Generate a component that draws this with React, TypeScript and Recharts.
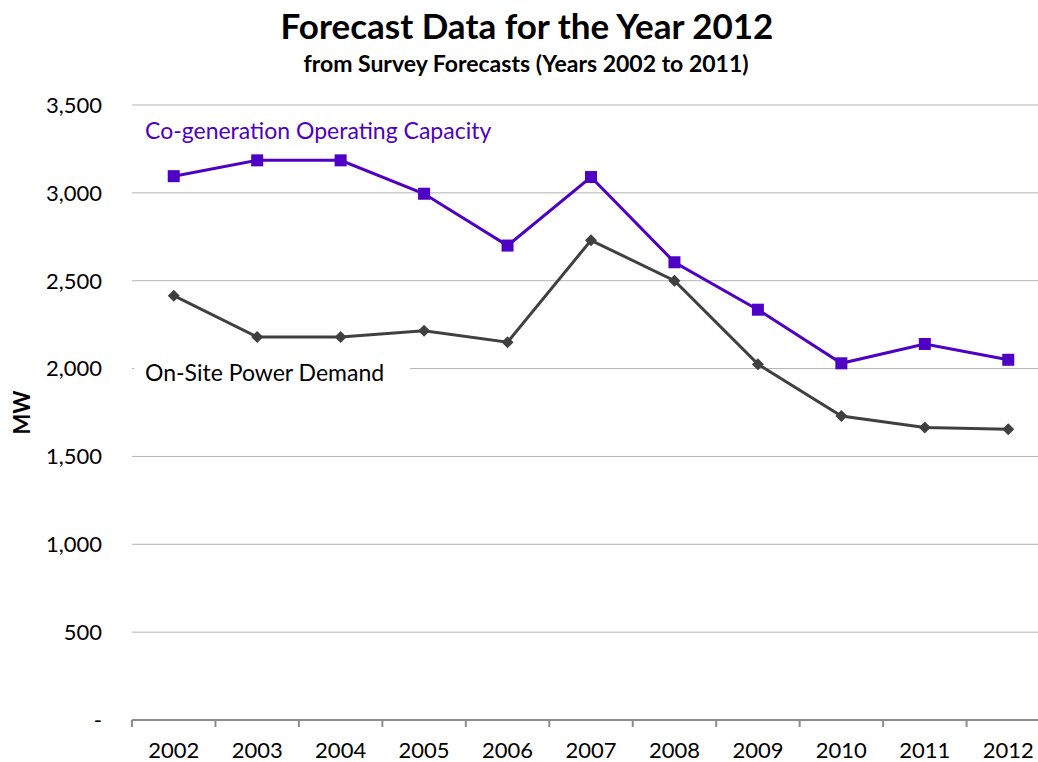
import { LineChart, Line, XAxis, YAxis, CartesianGrid } from 'recharts';

const years = [2002, 2003, 2004, 2005, 2006, 2007, 2008, 2009, 2010, 2011, 2012];
const cogenCapacity = [3095, 3185, 3185, 2995, 2700, 3090, 2605, 2335, 2030, 2140, 2050];
const onSiteDemand = [2415, 2180, 2180, 2215, 2150, 2730, 2500, 2025, 1730, 1665, 1655];
const yTicks = [0, 500, 1000, 1500, 2000, 2500, 3000, 3500];

const data = years.map((year, i) => ({
  year,
  cogen: cogenCapacity[i],
  demand: onSiteDemand[i]
}));

// tick marks sit between the years, labels sit on the years
const bandEdges = [...years.map((y) => y - 0.5), years[years.length - 1] + 0.5];
const xTicks = [...bandEdges, ...years].sort((a, b) => a - b);
const xDomain = [bandEdges[0], bandEdges[bandEdges.length - 1]];

const PURPLE = '#4E00C4';
const DARK = '#404040';
const AXIS = '#8C8C8C';
const FONT = 'Lato, "Open Sans", sans-serif';

const SquareDot = (props: any) => {
  const { cx, cy, index } = props;
  if (cx == null || cy == null) return null;
  return <rect key={`sq-${index}`} x={cx - 6} y={cy - 6} width={12} height={12} fill={PURPLE} />;
};

const DiamondDot = (props: any) => {
  const { cx, cy, index } = props;
  if (cx == null || cy == null) return null;
  const r = 6;
  return (
    <polygon
      key={`dm-${index}`}
      points={`${cx},${cy - r} ${cx + r},${cy} ${cx},${cy + r} ${cx - r},${cy}`}
      fill={DARK}
    />
  );
};

const XTick = (props: any) => {
  const { x, y, payload } = props;
  const v = payload.value;
  if (!Number.isInteger(v)) {
    return <line x1={x} x2={x} y1={y} y2={y + 7} stroke={AXIS} strokeWidth={2} />;
  }
  return (
    <text x={x} y={y + 38} textAnchor="middle" fontFamily={FONT} fontSize={22} fill="#000">
      {v}
    </text>
  );
};

const MwLabel = (props: any) => {
  const { viewBox } = props;
  const x = viewBox.x + 21;
  const y = viewBox.y + viewBox.height / 2;
  return (
    <text
      x={x}
      y={y}
      transform={`rotate(-90, ${x}, ${y})`}
      textAnchor="middle"
      dominantBaseline="central"
      fontFamily={FONT}
      fontWeight="bold"
      fontSize={22}
      fill="#000"
    >
      MW
    </text>
  );
};

const fmtY = (v: number) => (v === 0 ? '-' : v.toLocaleString('en-US'));

export default function App() {
  return (
    <div
      style={{
        position: 'absolute',
        left: 0,
        top: 0,
        width: 1038,
        height: 762,
        overflow: 'hidden',
        background: '#fff'
      }}
    >
      <LineChart
        width={1050}
        height={762}
        data={data}
        margin={{ top: 105, right: 0, bottom: 0, left: 0 }}
      >
        <CartesianGrid vertical={false} stroke="#B3B3B3" strokeWidth={1} />
        <XAxis
          dataKey="year"
          type="number"
          domain={xDomain}
          ticks={xTicks}
          interval={0}
          height={42}
          tickSize={0}
          tickMargin={0}
          axisLine={{ stroke: AXIS, strokeWidth: 2 }}
          tickLine={false}
          tick={XTick}
          allowDataOverflow
        />
        <YAxis
          domain={[0, 3500]}
          ticks={yTicks}
          interval={0}
          width={132}
          tickSize={0}
          tickMargin={30}
          axisLine={false}
          tickLine={false}
          tickFormatter={fmtY}
          tick={{ fontFamily: FONT, fontSize: 22, fill: '#000' }}
          label={{ content: MwLabel }}
        />
        <Line
          dataKey="demand"
          stroke={DARK}
          strokeWidth={3}
          dot={DiamondDot}
          activeDot={false}
          isAnimationActive={false}
        />
        <Line
          dataKey="cogen"
          stroke={PURPLE}
          strokeWidth={3}
          dot={SquareDot}
          activeDot={false}
          isAnimationActive={false}
        />
      </LineChart>
      <svg
        width={1038}
        height={762}
        style={{ position: 'absolute', left: 0, top: 0, pointerEvents: 'none' }}
      >
        <text x={527} y={39} textAnchor="middle" fontFamily={FONT} fontWeight="bold" fontSize={35} fill="#000">
          Forecast Data for the Year 2012
        </text>
        <text x={526} y={72} textAnchor="middle" fontFamily={FONT} fontWeight="bold" fontSize={23} fill="#000">
          from Survey Forecasts (Years 2002 to 2011)
        </text>
        <text x={145} y={139} fontFamily={FONT} fontSize={23} fill={PURPLE}>
          Co-generation Operating Capacity
        </text>
        <rect x={134} y={356} width={276} height={30} fill="#fff" />
        <text x={145} y={381} fontFamily={FONT} fontSize={23} fill="#000">
          On-Site Power Demand
        </text>
      </svg>
    </div>
  );
}
